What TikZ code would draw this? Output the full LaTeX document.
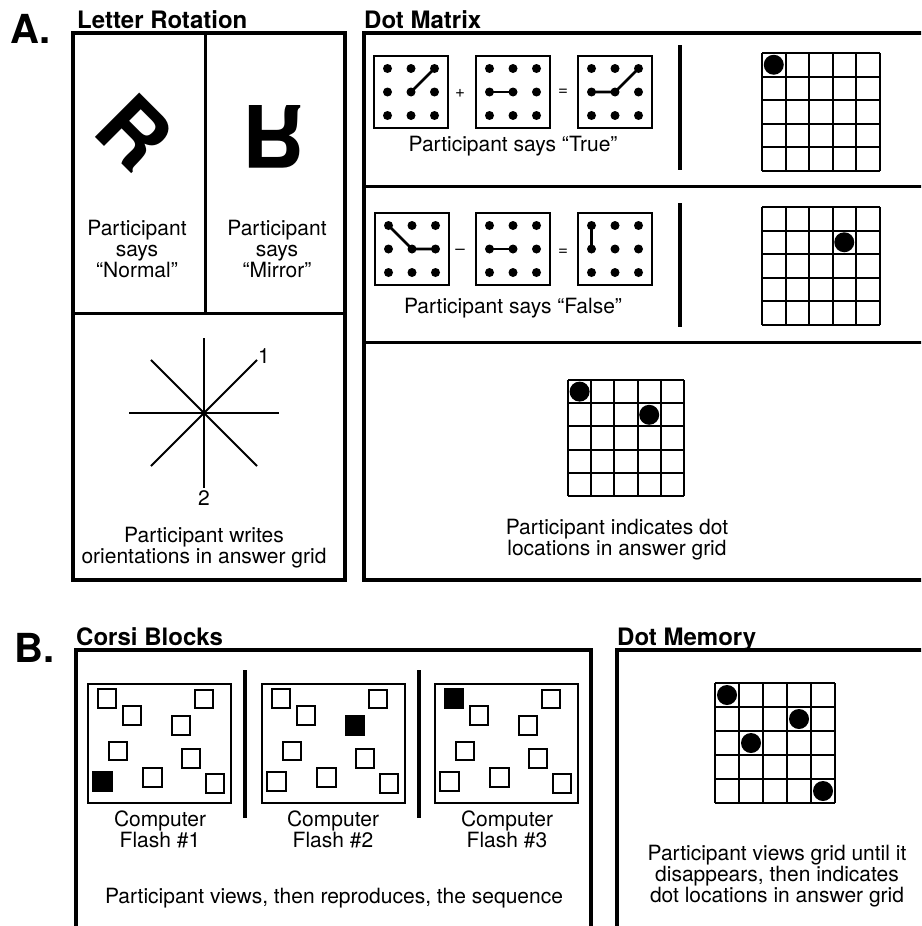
\documentclass[tikz,border=0pt]{standalone}
\usepackage{fontspec}
\setmainfont{TeX Gyre Heros}
\usepackage{tikz}

% 3x3 dot card: centre x, centre y, name
\newcommand{\dotcard}[3]{%
  \draw[thinbox] (#1-37,#2-36) rectangle (#1+37,#2+36);
  \foreach \c in {0,1,2}{%
    \foreach \r in {0,1,2}{%
      \node[carddot] (#3-\c\r) at ({#1+(\c-1)*23.5},{#2+(\r-1)*23.5}) {};}}}

% 5x5 answer grid: left, top, cell size, list of col/row dots
\newcommand{\answergrid}[4]{%
  \foreach \k in {0,...,5}{%
    \draw[gridline] ({#1+\k*#3},#2) -- ({#1+\k*#3},{#2+5*#3});
    \draw[gridline] (#1,{#2+\k*#3}) -- ({#1+5*#3},{#2+\k*#3});}
  \foreach \c/\r in {#4}{%
    \fill ({#1+(\c+0.5)*#3},{#2+(\r+0.5)*#3}) circle (10pt);}}

% Corsi screen: left, top, lit block x, lit block y, name
\newcommand{\corsiscreen}[5]{%
  \draw[thinbox] (#1,#2) rectangle ++(143,119);
  \foreach \bx/\by [count=\k] in {19/14.5,44/31.5,116/15,93/41.5,30/67,103/74.5,14.5/97.5,64.5/93.5,127/99.5}
    \node[block] (#5-\k) at ({#1+\bx},{#2+\by}) {};
  \node[block, fill] (#5-lit) at ({#1+#3},{#2+#4}) {};}

\begin{document}
\begin{tikzpicture}[x=1pt, y=-1pt,
    outerbox/.style={line width=3.5pt},
    splitline/.style={line width=3pt},
    sepbar/.style={line width=4pt},
    thinbox/.style={line width=2pt},
    gridline/.style={line width=2pt},
    link/.style={line width=2.6pt},
    carddot/.style={circle, fill, inner sep=0pt, minimum size=9pt},
    block/.style={draw, line width=2pt, minimum size=18.5pt, inner sep=0pt},
    bigletter/.style={font=\fontsize{86}{86}\selectfont\bfseries, inner sep=0pt},
    partlabel/.style={font=\fontsize{40}{40}\selectfont\bfseries, anchor=base west, inner sep=0pt},
    tasktitle/.style={font=\fontsize{24}{24}\selectfont\bfseries, anchor=base west, inner sep=0pt},
    caption/.style={font=\fontsize{21}{21}\selectfont, align=center, inner sep=0pt},
    sign/.style={font=\fontsize{17}{17}\selectfont, inner sep=0pt}]
  \useasboundingbox (0,0) rectangle (921,926);
  \clip (0,0) rectangle (921,926);

  % A. Letter Rotation
  \node[partlabel] (partA) at (10,43) {A.};
  \node[tasktitle] (titleLR) at (77,28) {Letter Rotation};
  \draw[outerbox] (73,33) rectangle (345,580);
  \draw[splitline] (73,313) -- (345,313);
  \draw[splitline] (205,33) -- (205,313);

  \node[bigletter, rotate=-45] (rNormal) at (135,132) {R};
  \node[bigletter, yscale=-1] (rMirror) at (274,137) {R};
  \node[caption] (sayNormal) at (137,249) {Participant\\says\\“Normal”};
  \node[caption] (sayMirror) at (277,249) {Participant\\says\\“Mirror”};

  \coordinate (hub) at (204,413);
  \foreach \a in {0,45,...,315}
    \draw[thinbox] (hub) -- ++(\a:75);
  \node[caption] (rayOne) at (264,356) {1};
  \node[caption] (rayTwo) at (204,498) {2};
  \node[caption] (writeText) at (204,548) {Participant writes\\orientations in answer grid};

  % Dot Matrix
  \node[tasktitle] (titleDM) at (364,28) {Dot Matrix};
  \draw[outerbox] (940,33) -- (364,33) -- (364,580) -- (940,580);
  \draw[splitline] (364,186) -- (940,186);
  \draw[splitline] (364,342) -- (940,342);

  \dotcard{411}{92}{t1}
  \dotcard{513}{92}{t2}
  \dotcard{615}{92}{t3}
  \draw[link] (t1-11.center) -- (t1-20.center);
  \draw[link] (t2-01.center) -- (t2-11.center);
  \draw[link] (t3-01.center) -- (t3-11.center) -- (t3-20.center);
  \node[sign] (plusT) at (460,93) {+};
  \node[sign] (eqT) at (563,92) {=};
  \node[caption, anchor=base] (sayTrue) at (513,151) {Participant says “True”};

  \dotcard{412}{249}{f1}
  \dotcard{513}{249}{f2}
  \dotcard{615}{249}{f3}
  \draw[link] (f1-00.center) -- (f1-11.center) -- (f1-21.center);
  \draw[link] (f2-01.center) -- (f2-11.center);
  \draw[link] (f3-00.center) -- (f3-01.center);
  \node[sign] (minusF) at (460,252) {–};
  \node[sign] (eqF) at (563,252) {=};
  \node[caption, anchor=base] (sayFalse) at (513,313) {Participant says “False”};

  \draw[sepbar] (680,45) -- (680,170);
  \draw[sepbar] (680,203) -- (680,327);
  \answergrid{762}{53}{23.5}{0/0}
  \answergrid{762}{207}{23.5}{3/1}
  \answergrid{568}{380}{23.2}{0/0,3/1}
  \node[caption] (indicateText) at (617,540) {Participant indicates dot\\locations in answer grid};

  % B. Corsi Blocks
  \node[partlabel] (partB) at (14,662) {B.};
  \node[tasktitle] (titleCB) at (76,645) {Corsi Blocks};
  \draw[outerbox] (76,940) -- (76,650) -- (591,650) -- (591,940);
  \corsiscreen{88}{684}{14.5}{97.5}{s1}
  \corsiscreen{262}{684}{93}{41.5}{s2}
  \corsiscreen{435}{684}{19}{14.5}{s3}
  \draw[sepbar] (245,670) -- (245,818);
  \draw[sepbar] (419,670) -- (419,818);
  \node[caption] (flashOne) at (160,829) {Computer\\Flash \#1};
  \node[caption] (flashTwo) at (333,829) {Computer\\Flash \#2};
  \node[caption] (flashThree) at (507,829) {Computer\\Flash \#3};
  \node[caption] (seqText) at (334,898) {Participant views, then reproduces, the sequence};

  % Dot Memory
  \node[tasktitle] (titleDMem) at (617,645) {Dot Memory};
  \draw[outerbox] (617,940) -- (617,650) -- (940,650);
  \answergrid{715}{683}{24}{0/0,3/1,1/2,4/4}
  \node[caption] (memText) at (777,876) {Participant views grid until it\\disappears, then indicates\\dot locations in answer grid};
\end{tikzpicture}
\end{document}
